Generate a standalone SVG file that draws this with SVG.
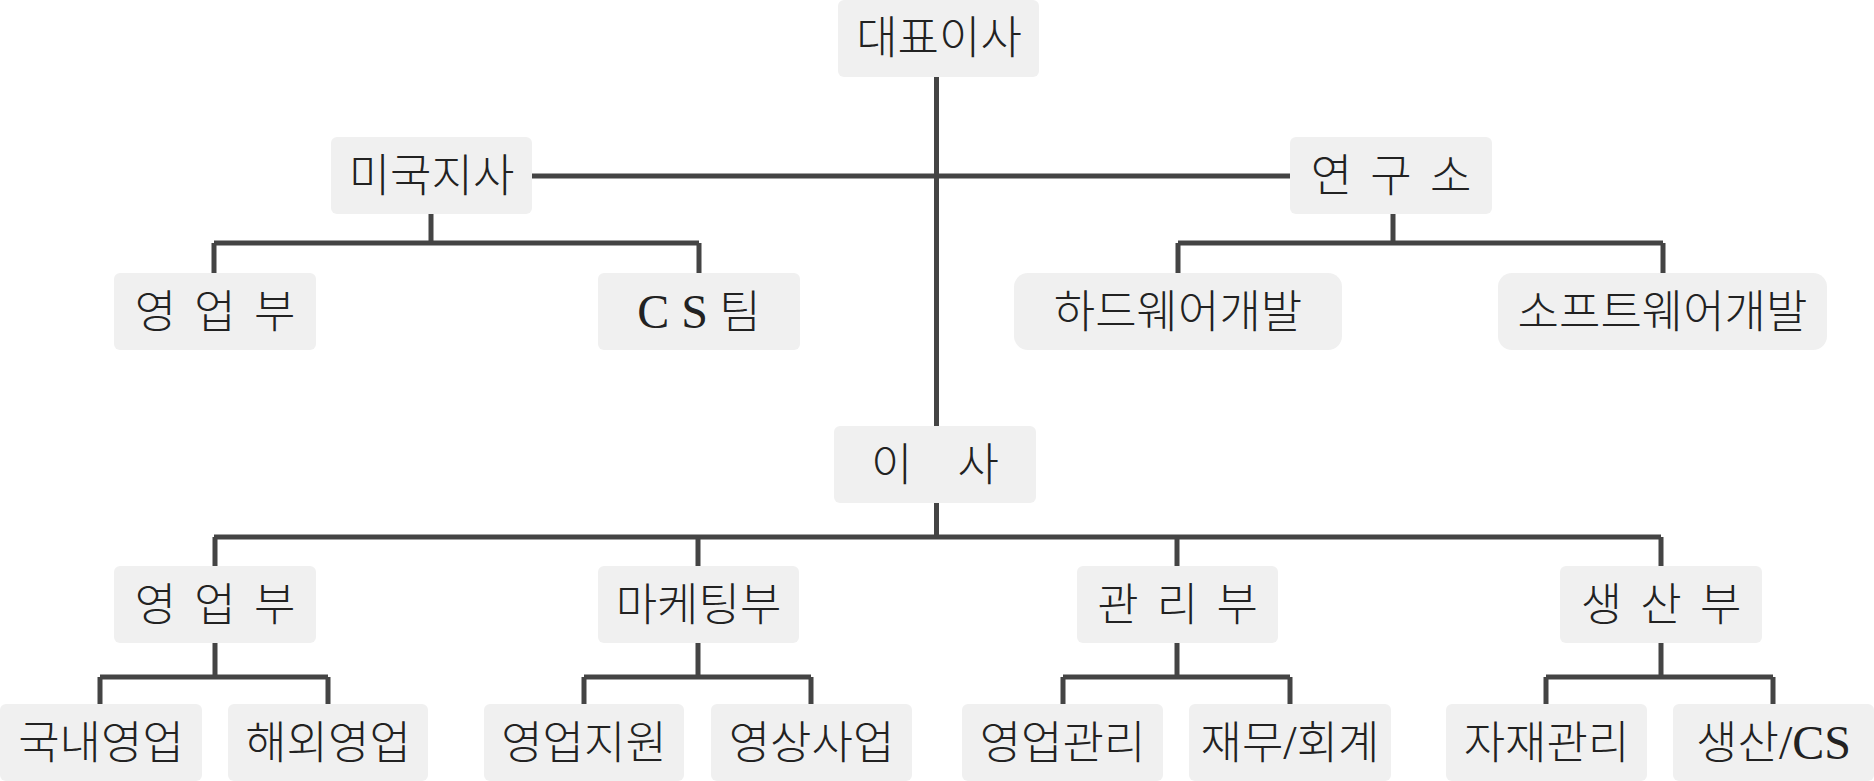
<svg xmlns="http://www.w3.org/2000/svg" width="1874" height="781" viewBox="0 0 1874 781">
<style>
.box{fill:#f0f0f0}
.t{font-family:"Liberation Serif","Noto Sans CJK KR",serif;font-size:45px;font-weight:300;fill:#222;text-anchor:middle}
.sp{word-spacing:7px}
.lat{font-size:48px}
.c{fill:none;stroke:#444;stroke-width:5}
</style>
<rect width="1874" height="781" fill="#fff"/>
<g id="connectors" class="c">
<path d="M936.5 77V426M936.5 503V537"/>
<path d="M532 176H1290"/>
<path d="M431 214V243M214 243H699M214 243V273M699 243V273"/>
<path d="M1393 214V243M1178 243H1663M1178 243V273M1663 243V273"/>
<path d="M214 537H1661M215 537V566M698 537V566M1177 537V566M1661 537V566"/>
<path d="M215 643V677M100 677H328M100 677V704M328 677V704"/>
<path d="M698 643V677M584 677H811M584 677V704M811 677V704"/>
<path d="M1177 643V677M1063 677H1290M1063 677V704M1290 677V704"/>
<path d="M1661 643V677M1546 677H1773M1546 677V704M1773 677V704"/>
</g>
<g id="ceo"><rect class="box" x="838" y="0" width="201" height="77" rx="6"/><text class="t" x="939" y="54">대표이사</text></g>
<g id="us"><rect class="box" x="331" y="137" width="201" height="77" rx="6"/><text class="t" x="431.5" y="192">미국지사</text></g>
<g id="lab"><rect class="box" x="1290" y="137" width="202" height="77" rx="6"/><text class="t sp" x="1391" y="192">연 구 소</text></g>
<g id="us-sales"><rect class="box" x="114" y="273" width="202" height="77" rx="6"/><text class="t sp" x="215" y="328">영 업 부</text></g>
<g id="us-cs"><rect class="box" x="598" y="273" width="202" height="77" rx="6"/><text class="t" x="699" y="328"><tspan class="lat">C S</tspan> 팀</text></g>
<g id="hw"><rect class="box" x="1014" y="273" width="328" height="77" rx="14"/><text class="t" x="1178" y="328">하드웨어개발</text></g>
<g id="sw"><rect class="box" x="1498" y="273" width="329" height="77" rx="14"/><text class="t" x="1662.5" y="328">소프트웨어개발</text></g>
<g id="director"><rect class="box" x="834" y="426" width="202" height="77" rx="6"/><text class="t" x="935" y="481">이　사</text></g>
<g id="sales"><rect class="box" x="114" y="566" width="202" height="77" rx="6"/><text class="t sp" x="215" y="621">영 업 부</text></g>
<g id="marketing"><rect class="box" x="598" y="566" width="201" height="77" rx="6"/><text class="t" x="698.5" y="621">마케팅부</text></g>
<g id="admin"><rect class="box" x="1077" y="566" width="201" height="77" rx="6"/><text class="t sp" x="1177.5" y="621">관 리 부</text></g>
<g id="production"><rect class="box" x="1560" y="566" width="202" height="77" rx="6"/><text class="t sp" x="1661" y="621">생 산 부</text></g>
<g id="domestic"><rect class="box" x="0" y="704" width="202" height="77" rx="6"/><text class="t" x="101" y="759">국내영업</text></g>
<g id="overseas"><rect class="box" x="228" y="704" width="200" height="77" rx="6"/><text class="t" x="328" y="759">해외영업</text></g>
<g id="sales-support"><rect class="box" x="484" y="704" width="200" height="77" rx="6"/><text class="t" x="584" y="759">영업지원</text></g>
<g id="video"><rect class="box" x="711" y="704" width="201" height="77" rx="6"/><text class="t" x="811.5" y="759">영상사업</text></g>
<g id="sales-admin"><rect class="box" x="962" y="704" width="201" height="77" rx="6"/><text class="t" x="1062.5" y="759">영업관리</text></g>
<g id="finance"><rect class="box" x="1189" y="704" width="202" height="77" rx="6"/><text class="t" x="1290" y="759">재무<tspan class="lat">/</tspan>회계</text></g>
<g id="materials"><rect class="box" x="1446" y="704" width="201" height="77" rx="6"/><text class="t" x="1546.5" y="759">자재관리</text></g>
<g id="prod-cs"><rect class="box" x="1673" y="704" width="201" height="77" rx="6"/><text class="t" x="1773.5" y="759">생산<tspan class="lat">/CS</tspan></text></g>
</svg>
